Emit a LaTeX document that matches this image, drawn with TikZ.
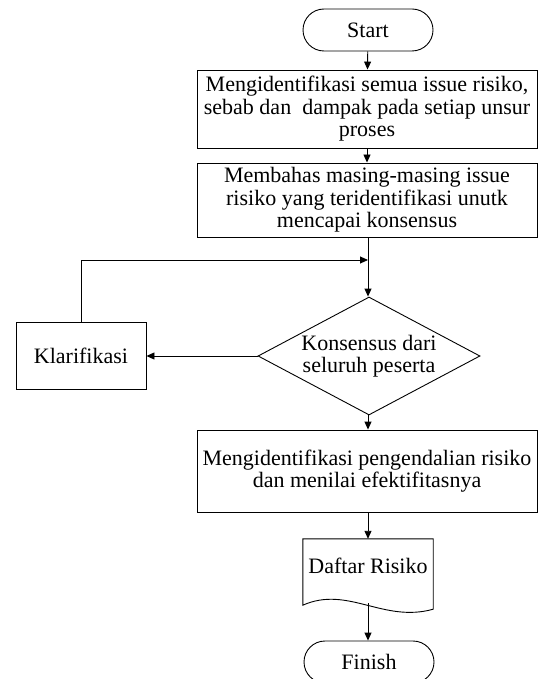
\documentclass[tikz,border=0pt]{standalone}
\usepackage{fontspec}
\setmainfont{Liberation Serif}
\usetikzlibrary{arrows.meta,shapes.geometric}
\begin{document}
\begin{tikzpicture}[x=1pt,y=-1pt,
  every node/.style={font=\fontsize{22}{22.5}\selectfont},
  term/.style={draw,line width=0.9pt,rectangle,rounded corners=21pt,minimum width=130pt,minimum height=42pt,inner sep=0pt},
  proc/.style={draw,line width=0.9pt,rectangle,minimum width=340pt,align=center,inner sep=0pt},
  dec/.style={draw,line width=0.9pt,diamond,aspect=1.88,minimum width=222pt,minimum height=118pt,inner sep=0pt,align=center},
  arr/.style={line width=0.9pt,-{Triangle[length=8pt,width=7pt]}},
  ln/.style={line width=0.9pt}]
\useasboundingbox (0,0) rectangle (545,679);
\clip (0,0) rectangle (545,679);
\node[term] (start) at (368,30) {Start};
\node[proc,minimum height=78pt] (b1) at (367,109) {Mengidentifikasi semua issue risiko,\\ sebab dan\ \ dampak pada setiap unsur\\ proses};
\node[proc,minimum height=74pt] (b2) at (367,200) {Membahas masing-masing issue\\ risiko yang teridentifikasi unutk\\ mencapai konsensus};
\node[dec] (d) at (369,356) {Konsensus dari\\ seluruh peserta};
\node[draw,line width=0.9pt,rectangle,minimum width=130pt,minimum height=67pt] (k) at (81,356) {Klarifikasi};
\node[proc,minimum height=82pt] (b3) at (367,471) {Mengidentifikasi pengendalian risiko\\ dan menilai efektifitasnya};
\node[minimum width=130pt,minimum height=62pt,inner sep=0pt] (doc) at (368,570) {};
\node at (368,566) {Daftar Risiko};
\draw[ln] (doc.north west) -- (doc.north east) -- ([yshift=-8pt]doc.south east)
  .. controls ([xshift=-50pt,yshift=-22pt]doc.south east) and ([xshift=45pt,yshift=16pt]doc.south west) .. ([yshift=-4pt]doc.south west) -- cycle;
\node[term] (fin) at (369,662) {Finish};
\coordinate (j) at (368,260);
\draw[arr] (start) -- (b1);
\draw[arr] (b1) -- (b2);
\draw[arr] (b2.south -| j) -- (d.north -| j);
\draw[arr] (d) -- (k);
\draw[arr] (k.north) |- (j);
\draw[arr] (d.south -| j) -- (b3.north -| j);
\draw[arr] (b3.south -| j) -- (doc.north -| j);
\draw[arr] ([yshift=-2pt]doc.south -| j) -- (fin.north -| j);
\end{tikzpicture}
\end{document}
